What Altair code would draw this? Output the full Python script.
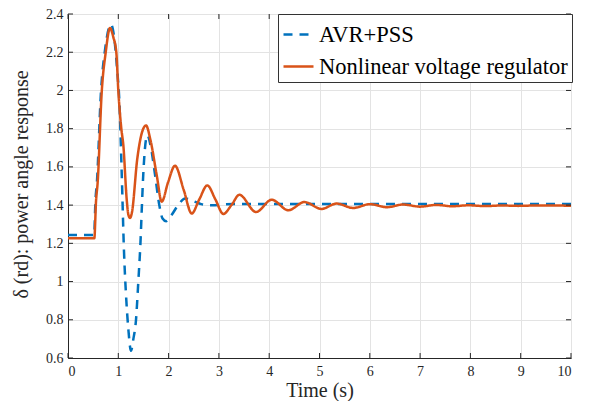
import altair as alt
import pandas as pd

# ---- data ----
avr_t = [0, 0.52, 0.545, 0.575, 0.655, 0.74, 0.855, 0.93, 0.98, 1.02, 1.067, 1.113, 1.16,
         1.2, 1.252, 1.3, 1.352, 1.398, 1.44, 1.47, 1.50, 1.577, 1.65, 1.73, 1.815, 1.88,
         1.95, 2.05, 2.19, 2.33, 2.5, 2.65, 2.85, 3.3, 10]
avr_v = [1.243, 1.243, 1.42, 1.52, 1.99, 2.22, 2.345, 2.25, 2.1, 1.95, 1.575, 1.16, 0.9,
         0.75, 0.638, 0.70, 0.80, 1.0, 1.2, 1.4, 1.58, 1.766, 1.70, 1.56, 1.40, 1.33,
         1.316, 1.345, 1.40, 1.435, 1.42, 1.405, 1.399, 1.406, 1.406]

nlr_t = [0, 0.523, 0.557, 0.59, 0.67, 0.75, 0.835, 0.90, 0.96, 1.0, 1.06, 1.10, 1.167,
         1.20, 1.233, 1.27, 1.378, 1.46, 1.551, 1.64, 1.763, 1.863, 1.99, 2.127, 2.3,
         2.459, 2.61, 2.769, 2.93, 3.087, 3.25, 3.406, 3.738, 4.05, 4.38, 4.70, 5.04,
         5.34, 5.67, 6.0, 6.34, 6.66, 7.0, 7.32, 7.64, 7.96, 8.3, 8.62, 8.95, 9.3, 10]
nlr_v = [1.226, 1.226, 1.42, 1.52, 1.99, 2.2, 2.327, 2.28, 2.2, 2.0, 1.80, 1.714, 1.43,
         1.35, 1.333, 1.36, 1.644, 1.77, 1.817, 1.74, 1.558, 1.418, 1.52, 1.606, 1.48,
         1.356, 1.43, 1.503, 1.43, 1.354, 1.40, 1.454, 1.364, 1.428, 1.373, 1.416, 1.38,
         1.408, 1.385, 1.405, 1.389, 1.403, 1.392, 1.401, 1.394, 1.399, 1.395, 1.398, 1.396,
         1.398, 1.397]

series_names = ["AVR+PSS", "Nonlinear voltage regulator"]
series_colors = ["#0072BD", "#D95319"]

x_ticks = [0, 1, 2, 3, 4, 5, 6, 7, 8, 9, 10]
y_ticks = [0.6, 0.8, 1.0, 1.2, 1.4, 1.6, 1.8, 2.0, 2.2, 2.4]

W, H = 503, 344
FONT = "Liberation Serif"
INK = "#262626"

df = pd.concat([
    pd.DataFrame({"t": avr_t, "v": avr_v, "series": series_names[0]}),
    pd.DataFrame({"t": nlr_t, "v": nlr_v, "series": series_names[1]}),
])

xscale = alt.Scale(domain=[0, 10], nice=False, zero=False)
yscale = alt.Scale(domain=[0.6, 2.4], nice=False, zero=False)

leg = alt.Legend(
    orient="none", legendX=210, legendY=0, title=None,
    fillColor="white", strokeColor="#333333", padding=4,
    labelFont=FONT, labelFontSize=22.5, labelColor="black", labelLimit=500,
    symbolType="stroke", symbolSize=900, symbolStrokeWidth=2.5,
    rowPadding=4, labelOffset=4, cornerRadius=0,
)

axis_common = dict(labelFont=FONT, labelFontSize=14, labelColor=INK,
                   titleFont=FONT, titleFontSize=20, titleColor=INK,
                   titleFontWeight="normal", labelOverlap=False, ticks=False,
                   domainColor=INK, gridColor="#e3e3e3")

x_axis = alt.Axis(values=x_ticks, title="Time (s)", labelPadding=6,
                  titleX=W / 2, titleY=32, titleBaseline="middle",
                  titleAlign="center", **axis_common)
y_axis = alt.Axis(values=y_ticks, format="~g", title="δ (rd): power angle response",
                  labelPadding=5, titleX=-47, titleY=H / 2 - 2, titleAngle=-90,
                  titleBaseline="middle", titleAlign="center", **axis_common)

lines = alt.Chart(df).mark_line(interpolate="monotone", strokeWidth=2.5).encode(
    x=alt.X("t:Q", scale=xscale, axis=x_axis, title="Time (s)"),
    y=alt.Y("v:Q", scale=yscale, axis=y_axis, title="δ (rd): power angle response"),
    color=alt.Color("series:N", scale=alt.Scale(domain=series_names, range=series_colors), legend=leg),
    strokeDash=alt.StrokeDash("series:N",
                              scale=alt.Scale(domain=series_names, range=[[9, 7], [1, 0]]),
                              legend=leg),
)

xt = pd.DataFrame({"t": x_ticks})
yt = pd.DataFrame({"v": y_ticks})
tick_style = dict(color=INK, strokeWidth=1)

bottom_ticks = alt.Chart(xt).mark_rule(**tick_style).encode(
    x=alt.X("t:Q", scale=xscale, axis=x_axis, title="Time (s)"), y=alt.value(H), y2=alt.value(H - 5))
top_ticks = alt.Chart(xt).mark_rule(**tick_style).encode(
    x=alt.X("t:Q", scale=xscale, axis=x_axis, title="Time (s)"), y=alt.value(0), y2=alt.value(5))
left_ticks = alt.Chart(yt).mark_rule(**tick_style).encode(
    y=alt.Y("v:Q", scale=yscale, axis=y_axis, title="δ (rd): power angle response"),
    x=alt.value(0), x2=alt.value(5))
right_ticks = alt.Chart(yt).mark_rule(**tick_style).encode(
    y=alt.Y("v:Q", scale=yscale, axis=y_axis, title="δ (rd): power angle response"),
    x=alt.value(W), x2=alt.value(W - 5))

chart = alt.layer(lines, bottom_ticks, top_ticks, left_ticks, right_ticks).properties(
    width=W, height=H,
    autosize=alt.AutoSizeParams(type="none"),
    padding={"left": 60, "top": 6, "right": 11, "bottom": 43},
    background="white",
).configure_view(stroke=INK, strokeWidth=1)

chart.save("out.html", embed_options={"renderer": "svg", "actions": False})
